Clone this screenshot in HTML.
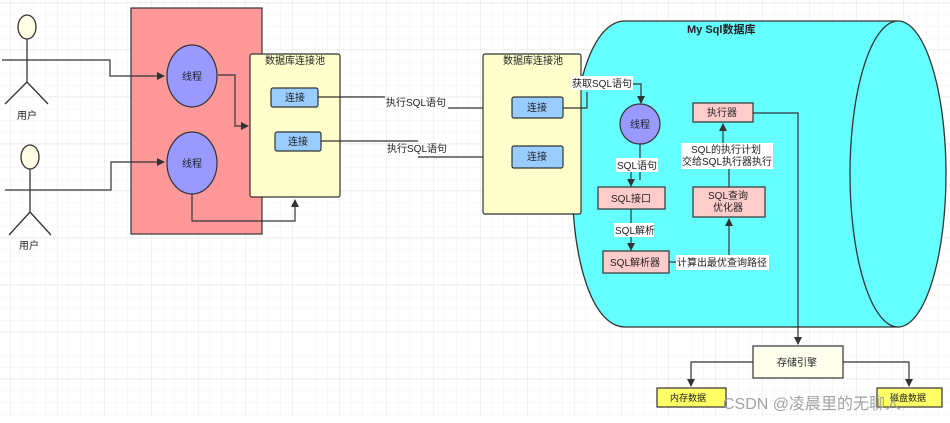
<!DOCTYPE html>
<html><head><meta charset="utf-8"><style>
html,body{margin:0;padding:0;background:#fff}
svg{display:block}
text{font-family:"Liberation Sans","Noto Sans CJK SC",sans-serif;font-size:10px;fill:#222}
</style></head><body>
<svg width="950" height="423" viewBox="0 0 950 423" xmlns="http://www.w3.org/2000/svg">
<defs>
<pattern id="minor" x="10" y="3" width="11.75" height="11.75" patternUnits="userSpaceOnUse">
<path d="M0 0H11.75M0 0V11.75" stroke="#f0f0f0" stroke-width="1" fill="none"/></pattern>
<pattern id="major" x="10" y="2" width="47" height="47" patternUnits="userSpaceOnUse">
<path d="M0 0H47M0 0V47" stroke="#e6e6e6" stroke-width="1" fill="none"/></pattern>
<marker id="a" markerWidth="8" markerHeight="8" refX="7" refY="4" orient="auto" markerUnits="userSpaceOnUse">
<path d="M0 0L8 4L0 8z" fill="#333"/></marker>
</defs>
<rect width="950" height="418" fill="url(#minor)"/>
<rect width="950" height="418" fill="url(#major)"/>

<!-- users -->
<g stroke="#333" stroke-width="1.3" fill="none">
<ellipse cx="27" cy="27" rx="9" ry="12" fill="#ffffe6"/>
<path d="M27 39V82M27 82L5 104M27 82L48 104M2 60H52"/>
<ellipse cx="30" cy="157" rx="9" ry="12" fill="#ffffe6"/>
<path d="M30 169V212M30 212L9 235M30 212L51 235M5 190H55"/>
</g>
<text x="17" y="119">用户</text>
<text x="19" y="249">用户</text>

<!-- red box -->
<rect x="131" y="8" width="131" height="226" fill="#ff9999" stroke="#333" stroke-width="1.2"/>
<ellipse cx="192" cy="76" rx="25" ry="31" fill="#9999ff" stroke="#333" stroke-width="1.2"/>
<ellipse cx="192" cy="163" rx="25" ry="31" fill="#9999ff" stroke="#333" stroke-width="1.2"/>
<text x="182" y="80">线程</text><text x="182" y="167">线程</text>

<!-- pool1 -->
<rect x="250" y="54" width="90" height="143" rx="2" fill="#ffffcc" stroke="#333" stroke-width="1.2"/>
<text x="265" y="64">数据库连接池</text>
<rect x="271" y="88" width="47" height="19" rx="2" fill="#99ccff" stroke="#333" stroke-width="1.2"/>
<rect x="275" y="132" width="46" height="19" rx="2" fill="#99ccff" stroke="#333" stroke-width="1.2"/>
<text x="285" y="101">连接</text><text x="288" y="145">连接</text>

<g stroke="#333" stroke-width="1.2" fill="none">
<path d="M52 60H110V76H164" marker-end="url(#a)"/>
<path d="M55 190H111V162H164" marker-end="url(#a)"/>
<path d="M218 75H235V126H248" marker-end="url(#a)"/>
<path d="M192 194V221H295V200" marker-end="url(#a)"/>
<path d="M318 97H385"/><path d="M448 108H510" marker-end="url(#a)"/>
<path d="M321 141H418"/><path d="M418 157H510" marker-end="url(#a)"/>
</g>
<text x="386" y="106">执行SQL语句</text>
<text x="387" y="152">执行SQL语句</text>

<!-- cylinder -->
<path d="M625 21H898V327H625C595 327 572 270 572 174C572 78 595 21 625 21Z" fill="#66ffff" stroke="#333" stroke-width="1.3"/>
<ellipse cx="898" cy="174" rx="48" ry="153" fill="#66ffff" stroke="#333" stroke-width="1.3"/>
<text x="687" y="33" style="font-weight:bold;font-size:11px">My Sql数据库</text>

<!-- pool2 -->
<rect x="483" y="54" width="98" height="160" rx="2" fill="#ffffcc" stroke="#333" stroke-width="1.2"/>
<text x="503" y="64">数据库连接池</text>
<rect x="512" y="97" width="51" height="21" rx="2" fill="#99ccff" stroke="#333" stroke-width="1.2"/>
<rect x="512" y="146" width="51" height="22" rx="2" fill="#99ccff" stroke="#333" stroke-width="1.2"/>
<text x="527" y="111">连接</text><text x="527" y="160">连接</text>

<g stroke="#333" stroke-width="1.2" fill="none">
<path d="M563 108H587V92"/>
<path d="M633 84H641V103" marker-end="url(#a)"/>
<path d="M640 143V180" /><path d="M631 172V186" marker-end="url(#a)"/>
<path d="M631 209V250" marker-end="url(#a)"/>
<path d="M669 262H676"/>
<path d="M729 270V219" marker-end="url(#a)"/>
<path d="M729 187V167"/><path d="M723 144V124" marker-end="url(#a)"/>
<path d="M753 113H798V344" marker-end="url(#a)"/>
<path d="M753 362H691V386" marker-end="url(#a)"/>
<path d="M843 362H909V386" marker-end="url(#a)"/>
</g>
<rect x="571" y="76" width="62" height="14" fill="#fff"/>
<text x="572" y="87">获取SQL语句</text>
<circle cx="640" cy="124" r="20" fill="#9999ff" stroke="#333" stroke-width="1.2"/>
<text x="630" y="128">线程</text>
<rect x="616" y="158" width="42" height="14" fill="#fff"/>
<text x="617" y="169">SQL语句</text>
<rect x="598" y="187" width="67" height="22" fill="#ffcccc" stroke="#333" stroke-width="1.2"/>
<text x="611" y="202">SQL接口</text>
<rect x="614" y="223" width="40" height="14" fill="#fff"/>
<text x="615" y="234">SQL解析</text>
<rect x="603" y="251" width="66" height="22" fill="#ffcccc" stroke="#333" stroke-width="1.2"/>
<text x="610" y="266">SQL解析器</text>
<rect x="676" y="255" width="93" height="15" fill="#fff"/>
<text x="677" y="266">计算出最优查询路径</text>
<rect x="693" y="187" width="72" height="30" fill="#ffcccc" stroke="#333" stroke-width="1.2"/>
<text x="708" y="199">SQL查询</text><text x="713" y="211">优化器</text>
<rect x="681" y="143" width="92" height="26" fill="#fff"/>
<text x="691" y="153">SQL的执行计划</text><text x="682" y="165">交给SQL执行器执行</text>
<rect x="693" y="103" width="60" height="19" fill="#ffcccc" stroke="#333" stroke-width="1.2"/>
<text x="707" y="116">执行器</text>

<rect x="753" y="346" width="90" height="32" fill="#ffffee" stroke="#333" stroke-width="1.2"/>
<text x="777" y="366">存储引擎</text>
<rect x="657" y="388" width="69" height="19" fill="#ffff66" stroke="#333" stroke-width="1.2"/>
<text x="670" y="401" style="font-size:9px">内存数据</text>
<rect x="877" y="388" width="65" height="19" fill="#ffff66" stroke="#333" stroke-width="1.2"/>
<text x="890" y="401" style="font-size:9px">磁盘数据</text>
<text x="723" y="409" style="font-size:16px;fill:#999;opacity:0.9">CSDN @凌晨里的无聊人</text>
</svg>
</body></html>
